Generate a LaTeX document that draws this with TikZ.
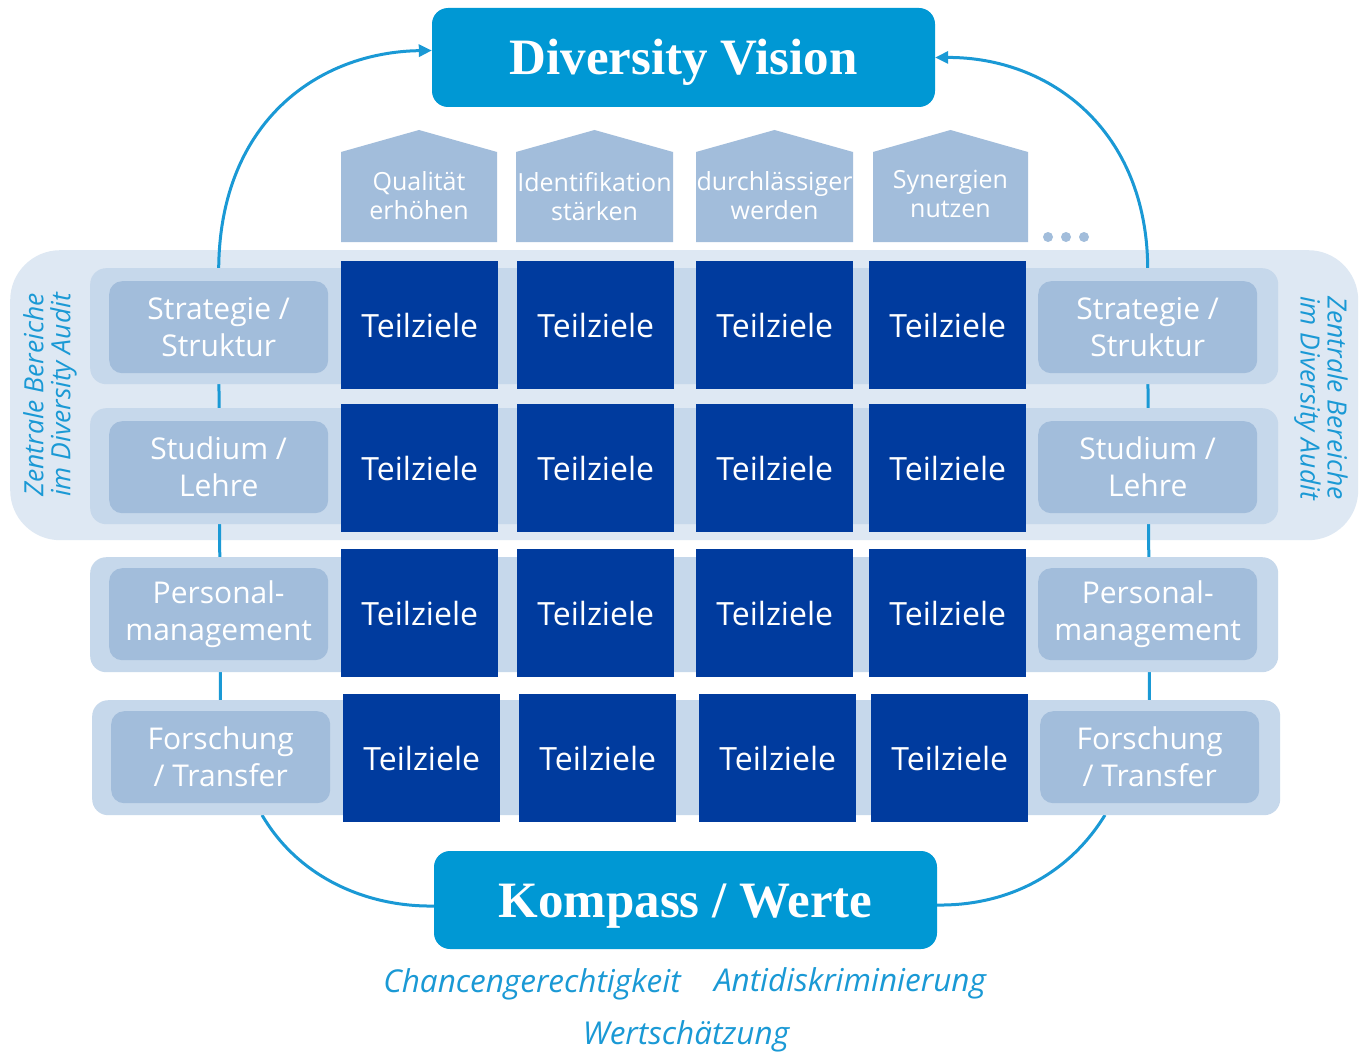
\documentclass[tikz,border=0pt]{standalone}
\usepackage{fontspec}
\setmainfont{Open Sans}
\newfontfamily\titlefont{Liberation Serif}
\usetikzlibrary{arrows.meta}
\pgfdeclarelayer{outerlayer}
\pgfdeclarelayer{linelayer}
\pgfdeclarelayer{bandlayer}
\pgfsetlayers{outerlayer,linelayer,bandlayer,main}
\definecolor{vis}{HTML}{0098D4}
\definecolor{lnc}{HTML}{1A99D5}
\definecolor{outerband}{HTML}{DEE8F3}
\definecolor{band}{HTML}{C6D8EB}
\definecolor{lab}{HTML}{A2BDDB}
\definecolor{dark}{HTML}{003B9E}
\tikzset{
 title/.style={fill=vis, rounded corners=16pt, minimum width=503pt, minimum height=99pt, text=white, font=\titlefont\bfseries\fontsize{51}{56}\selectfont, inner sep=0pt, text height=34pt, text depth=0pt},
 goal/.style={fill=dark, minimum width=157pt, minimum height=128pt, anchor=north west, text=white, font=\fontsize{32}{36}\selectfont, inner sep=0pt},
 area/.style={fill=lab, rounded corners=13pt, minimum width=219pt, minimum height=92pt, anchor=north west, text=white, align=center, font=\fontsize{30}{37}\selectfont, inner sep=0pt},
 rowband/.style={fill=band, rounded corners=16pt, minimum width=1188pt, minimum height=116pt, anchor=north west, inner sep=0pt},
 house/.style={fill=lab},
 houselabel/.style={text=white, align=center, font=\fontsize{25}{29}\selectfont, inner sep=0pt},
 conn/.style={draw=lnc, line width=3pt},
 tip/.style={-{Triangle[length=13pt,width=12pt]}},
 side/.style={text=lnc, align=center, font=\itshape\fontsize{26.5}{27}\selectfont, inner sep=0pt},
 value/.style={text=lnc, font=\itshape\fontsize{31.5}{34}\selectfont, inner sep=0pt}
}
\begin{document}
\begin{tikzpicture}[x=1pt,y=-1pt]
\useasboundingbox (0,0) rectangle (1360,1054);
\begin{pgfonlayer}{outerlayer}
\fill[white] (0,0) rectangle (1360,1054);
\node[fill=outerband, rounded corners=50pt, minimum width=1348pt, minimum height=290pt, anchor=north west, inner sep=0pt] (outer) at (10,250) {};
\end{pgfonlayer}
\begin{pgfonlayer}{bandlayer}
\node[rowband] (b1) at (90,268) {};
\node[rowband] (b2) at (90,408) {};
\node[rowband, minimum height=115pt] (b3) at (90,557) {};
\node[rowband, minimum height=115pt] (b4) at (92,700) {};
\end{pgfonlayer}
% titles
\node[title] (vis) at (683.5,57.5) {Diversity Vision};
\node[title, minimum height=98pt] (komp) at (685.5,900) {Kompass / Werte};
% houses
\foreach \x/\w in {341/156,516/157,696/157,873/155}{
 \fill[house] (\x,242) -- (\x,152) -- (\x+\w/2,130) -- (\x+\w,152) -- (\x+\w,242) -- cycle;
}
\node[houselabel] (h1) at (419,196) {Qualität\\erhöhen};
\node[houselabel] (h2) at (594.5,197) {Identifikation\\stärken};
\node[houselabel] (h3) at (774.5,196) {durchlässiger\\werden};
\node[houselabel] (h4) at (950.5,194) {Synergien\\nutzen};
\fill[lab] (1048,237) circle (5pt) (1066,237) circle (5pt) (1084,237) circle (5pt);
% area labels
\node[area] (ls) at (109,281) {Strategie /\\Struktur};
\node[area] (ll) at (109,421) {Studium /\\Lehre};
\node[area] (lp) at (109,568) {Personal-\\management};
\node[area] (lf) at (111,711) {Forschung\\/ Transfer};
\node[area] (rs) at (1038,281) {Strategie /\\Struktur};
\node[area] (rl) at (1038,421) {Studium /\\Lehre};
\node[area] (rp) at (1038,568) {Personal-\\management};
\node[area] (rf) at (1040,711) {Forschung\\/ Transfer};
% goals
\foreach \r/\y in {1/261,2/404,3/549}{
 \foreach \c/\x in {1/341,2/517,3/696,4/869}{
  \node[goal] (g\r\c) at (\x,\y) {Teilziele};
 }
}
\foreach \c/\x in {1/343,2/519,3/699,4/871}{
 \node[goal] (g4\c) at (\x,694) {Teilziele};
}
% side texts
\node[side, rotate=90] (sl) at (50,395) {Zentrale Bereiche\\im Diversity Audit};
\node[side, rotate=-90] (sr) at (1321,398) {Zentrale Bereiche\\im Diversity Audit};
% values
\node[value] (v1) at (532,984) {Chancengerechtigkeit};
\node[value] (v2) at (850,983) {Antidiskriminierung};
\node[value] (v3) at (686,1036) {Wertschätzung};
% connectors
\coordinate (blStart) at (262,815);
\coordinate (brStart) at (1105,815);
\begin{pgfonlayer}{linelayer}
\draw[conn] (ls.center) -- (lf.center);
\draw[conn] (rs.center) -- (rf.center);
\draw[conn, tip] (ls.center) -- ++(0,-59) .. controls (220,120) and (320,52) .. ([yshift=7pt]vis.west);
\draw[conn, tip] (rs.center) -- ++(0,-59) .. controls (1147,130) and (1050,57) .. (vis.east);
\draw[conn] (blStart) .. controls (300,880) and (370,907) .. ([yshift=-6pt]komp.west);
\draw[conn] (brStart) .. controls (1065,880) and (1000,906) .. ([yshift=-5pt]komp.east);
\end{pgfonlayer}
\end{tikzpicture}
\end{document}
